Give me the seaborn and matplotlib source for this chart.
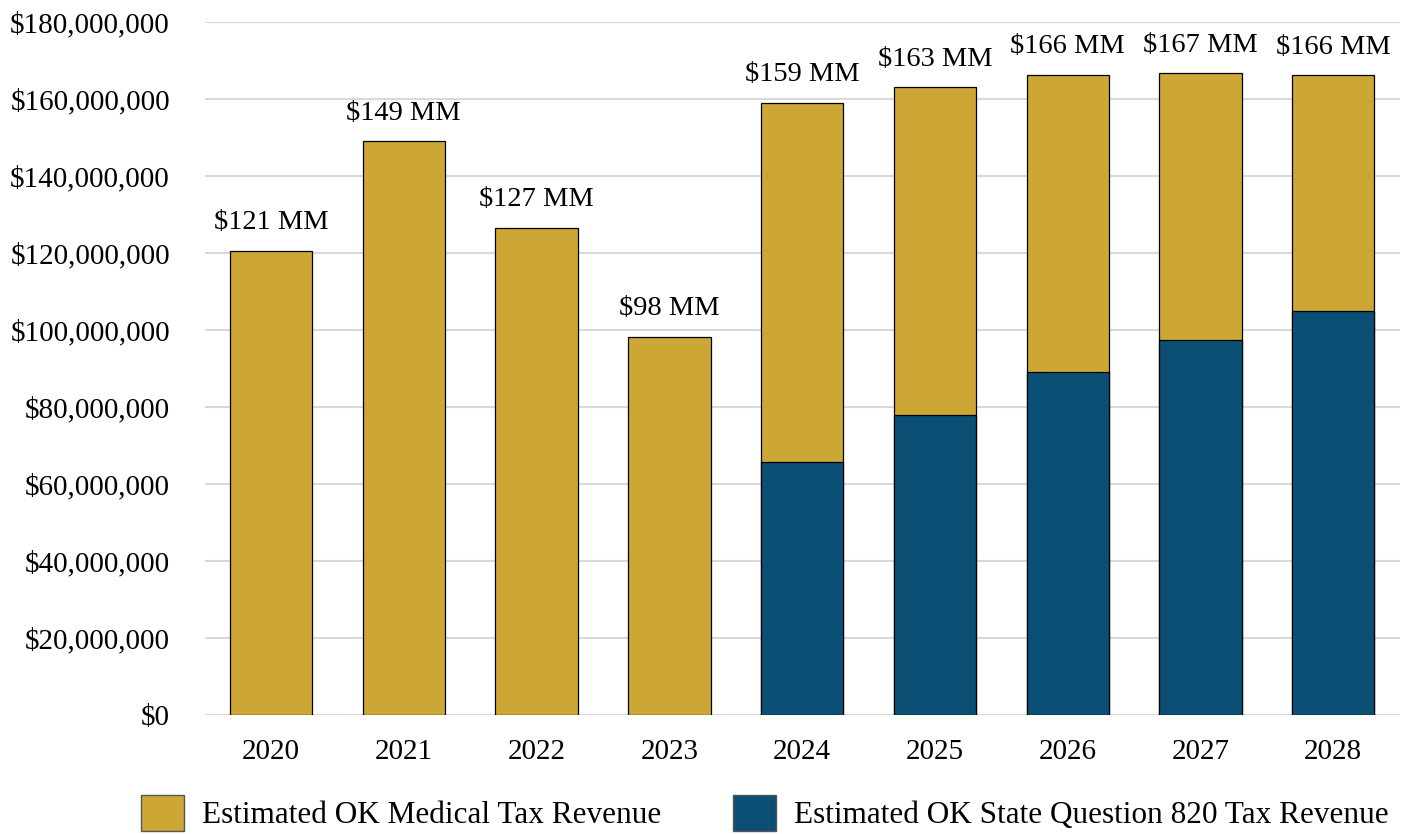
import matplotlib
matplotlib.use("Agg")
import matplotlib.pyplot as plt
import matplotlib.ticker as mticker
from matplotlib.patches import Patch
import seaborn as sns
import pandas as pd

# values in millions of dollars
years = ["2020", "2021", "2022", "2023", "2024", "2025", "2026", "2027", "2028"]
medical = [120.6, 149.1, 126.6, 98.2, 93.4, 85.2, 77.3, 69.4, 61.4]
sq820 = [0.0, 0.0, 0.0, 0.0, 65.6, 77.8, 89.0, 97.3, 104.8]

GOLD = "#CDA735"
BLUE = "#0B4F75"

sns.set_theme(style="white")
plt.rcParams["font.family"] = ["Liberation Serif", "DejaVu Serif"]
plt.rcParams["text.color"] = "black"
plt.rcParams["xtick.color"] = "black"
plt.rcParams["ytick.color"] = "black"

df = pd.DataFrame({"year": years, "medical": medical, "sq820": sq820})
df["total"] = df["medical"] + df["sq820"]

fig = plt.figure(figsize=(14.21, 8.34), dpi=100)
ax = fig.add_axes([0.144, 0.1427, 0.841, 0.831])

sns.barplot(data=df, x="year", y="total", color=GOLD, width=0.62,
            edgecolor="black", linewidth=0.9, saturation=1, ax=ax)
sns.barplot(data=df[df["sq820"] > 0], x="year", y="sq820", color=BLUE, width=0.62,
            order=years, edgecolor="black", linewidth=0.9, saturation=1, ax=ax)

for i, t in enumerate(df["total"]):
    ax.text(i, t + 4, f"${round(t):.0f} MM", ha="center", va="bottom", fontsize=20.5)

ax.set_ylim(0, 180)
ax.set_xlim(-0.5, 8.5)
ax.yaxis.set_major_locator(mticker.MultipleLocator(20))
ax.yaxis.set_major_formatter(mticker.FuncFormatter(lambda v, p: f"${v * 1e6:,.0f}"))
ax.grid(axis="y", color="#d9d9d9", linewidth=1.5)
ax.set_axisbelow(True)
for s in ax.spines.values():
    s.set_visible(False)
ax.set_xlabel("")
ax.set_ylabel("")
ax.tick_params(axis="both", labelsize=21, length=0)
ax.tick_params(axis="x", pad=17)
ax.tick_params(axis="y", pad=25)

handles = [Patch(facecolor=GOLD, edgecolor="#555555", label="Estimated OK Medical Tax Revenue"),
           Patch(facecolor=BLUE, edgecolor="#555555", label="Estimated OK State Question 820 Tax Revenue")]
fig.legend(handles=handles, loc="lower center", bbox_to_anchor=(0.538, -0.03), ncol=2,
           frameon=False, fontsize=22.5, handlelength=1.4, handleheight=1.4,
           handletextpad=0.55, columnspacing=2.3)

fig.savefig("out.png", dpi=100)
